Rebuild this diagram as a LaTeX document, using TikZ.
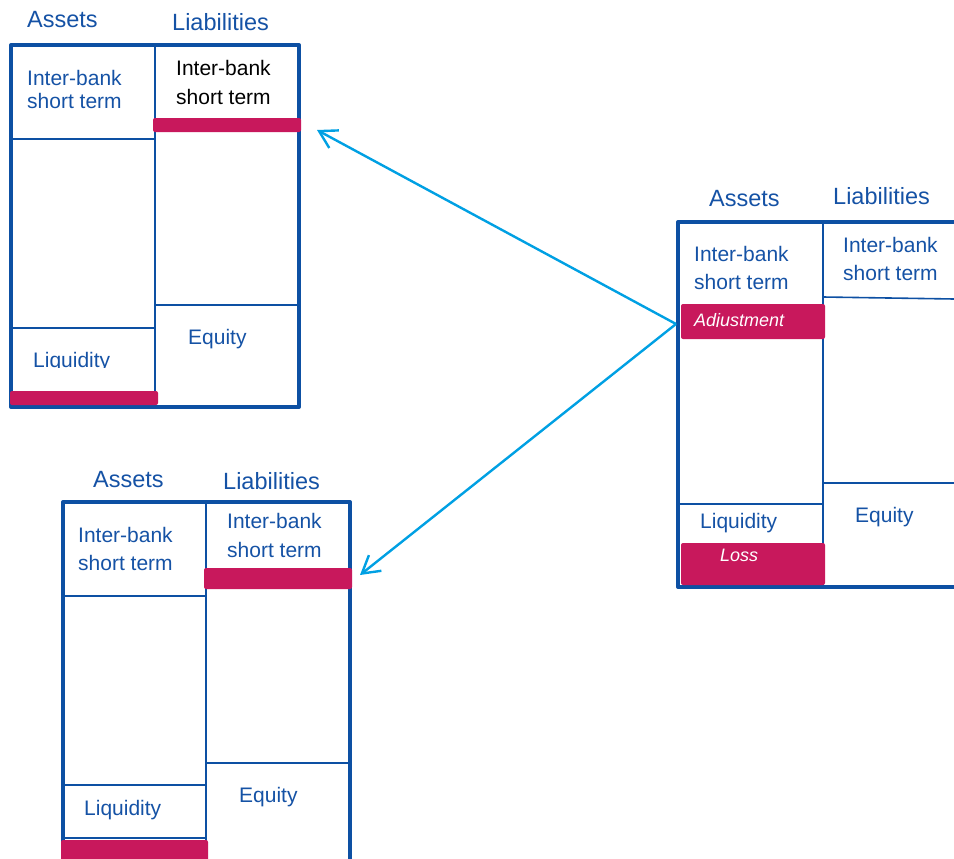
\documentclass[tikz,border=0pt]{standalone}
\usepackage{fontspec}
\setmainfont{Liberation Sans}
\usetikzlibrary{arrows.meta}
\definecolor{fblue}{RGB}{13,80,163}
\definecolor{tblue}{RGB}{21,82,165}
\definecolor{mag}{RGB}{200,24,92}
\definecolor{ablue}{RGB}{0,160,227}
\tikzset{
  frame/.style={draw=fblue, line width=4pt, line join=round},
  inner/.style={draw=fblue, line width=1.6pt},
  bar/.style={fill=mag, rounded corners=2pt},
  txt/.style={anchor=base west, inner sep=0pt, text=tblue, font=\fontsize{21}{24}\selectfont},
  head/.style={txt, font=\fontsize{23.5}{26}\selectfont},
  bartxt/.style={txt, text=white, font=\fontsize{18}{20}\selectfont\itshape},
  link/.style={draw=ablue, line width=2.4pt, -{Straight Barb[length=17pt,width=20pt]}}
}
\begin{document}
\begin{tikzpicture}[x=1pt,y=-1pt]
\useasboundingbox (0,0) rectangle (954,859);
% ---------- top-left balance sheet ----------
\draw[inner] (11,139) -- (155,139);
\draw[inner] (11,328) -- (155,328);
\draw[inner] (155,305) -- (299,305);
\draw[inner] (155,45) -- (155,407);
\draw[frame] (11,45) rectangle (299,407);
\fill[bar] (153,118) rectangle (301,132);
\fill[bar] (10,391) rectangle (158,405);
\node[head] (tlA) at (27,28) {Assets};
\node[head] (tlL) at (172,31) {Liabilities};
\node[txt] (tlI1) at (27,85) {Inter-bank};
\node[txt] (tlI2) at (27,109) {short term};
\node[txt,text=black] (tlR1) at (176,76) {Inter-bank};
\node[txt,text=black] (tlR2) at (176,104) {short term};
\node[txt] (tlE) at (188,344) {Equity};
\begin{scope}
\clip (15,330) rectangle (150,367.5);
\node[txt] (tlQ) at (33,367) {Liquidity};
\end{scope}
% ---------- right balance sheet ----------
\draw[inner] (823,297) -- (954,299);
\draw[inner] (823,483) -- (954,483);
\draw[inner] (678,504) -- (823,504);
\draw[inner] (823,222) -- (823,587);
\draw[frame] (956,222) -- (678,222) -- (678,587) -- (956,587);
\fill[bar] (681,304) rectangle (825,339);
\fill[bar] (681,543) rectangle (825,585);
\node[head] (rA) at (709,206) {Assets};
\node[head] (rL) at (833,204) {Liabilities};
\node[txt] (rI1) at (694,261) {Inter-bank};
\node[txt] (rI2) at (694,289) {short term};
\node[txt] (rR1) at (843,252) {Inter-bank};
\node[txt] (rR2) at (843,280) {short term};
\begin{scope}
\clip (683,305) rectangle (823,326.3);
\node[bartxt] (rAdj) at (694,326) {Adjustment};
\end{scope}
\node[txt] (rQ) at (700,528) {Liquidity};
\node[bartxt] (rLoss) at (720,561) {Loss};
\node[txt] (rE) at (855,522) {Equity};
% ---------- bottom balance sheet ----------
\draw[inner] (63,596) -- (206,596);
\draw[inner] (63,785) -- (206,785);
\draw[inner] (63,838) -- (206,838);
\draw[inner] (206,763) -- (350,763);
\draw[inner] (206,502) -- (206,862);
\draw[frame] (63,862) -- (63,502) -- (350,502) -- (350,862);
\fill[bar] (204,568) rectangle (352,589);
\fill[bar] (61,840) rectangle (208,864);
\node[head] (bA) at (93,487) {Assets};
\node[head] (bL) at (223,489) {Liabilities};
\node[txt] (bI1) at (78,542) {Inter-bank};
\node[txt] (bI2) at (78,570) {short term};
\node[txt] (bR1) at (227,528) {Inter-bank};
\node[txt] (bR2) at (227,557) {short term};
\node[txt] (bQ) at (84,815) {Liquidity};
\node[txt] (bE) at (239,802) {Equity};
% ---------- arrows ----------
\coordinate (src) at (676,324);
\coordinate (tgtTop) at (317,130);
\coordinate (tgtBot) at (360,575);
\draw[link] (src) -- (tgtTop);
\draw[link] (src) -- (tgtBot);
\end{tikzpicture}
\end{document}
